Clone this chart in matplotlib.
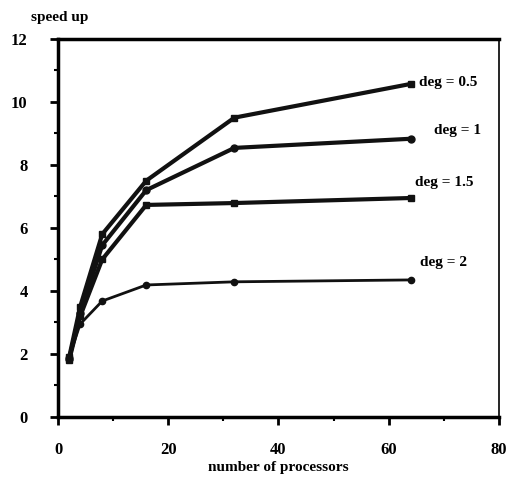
import matplotlib
matplotlib.use('Agg')
import matplotlib.pyplot as plt
from matplotlib.ticker import MultipleLocator

plt.rcParams['font.family'] = ['Liberation Serif', 'DejaVu Serif']

procs = [2, 4, 8, 16, 32, 64]
deg05 = [1.9, 3.5, 5.8, 7.5, 9.5, 10.57]
deg1 = [1.85, 3.3, 5.45, 7.2, 8.54, 8.83]
deg15 = [1.8, 3.2, 5.0, 6.73, 6.79, 6.95]
deg2 = [1.9, 2.95, 3.68, 4.19, 4.29, 4.35]
labels = ['deg = 0.5', 'deg = 1', 'deg = 1.5', 'deg = 2']

fig = plt.figure(figsize=(5.1, 4.86), dpi=100)
ax = fig.add_axes([0.114, 0.142, 0.864, 0.778])

ax.plot(procs, deg05, color='#111', lw=3, marker='s', ms=5)
ax.plot(procs, deg1, color='#111', lw=3, marker='o', ms=5)
ax.plot(procs, deg15, color='#111', lw=3, marker='s', ms=5)
ax.plot(procs, deg2, color='#111', lw=2, marker='o', ms=4.5)

# labels next to the right end of each line
ax.text(65.5, 10.62, labels[0], fontsize=11, fontweight='bold', ha='left', va='center')
ax.text(68.2, 9.1, labels[1], fontsize=11, fontweight='bold', ha='left', va='center')
ax.text(64.8, 7.45, labels[2], fontsize=11, fontweight='bold', ha='left', va='center')
ax.text(65.7, 4.9, labels[3], fontsize=11, fontweight='bold', ha='left', va='center')

ax.set_xlim(0, 80)
ax.set_ylim(0, 12)
ax.xaxis.set_major_locator(MultipleLocator(20))
ax.xaxis.set_minor_locator(MultipleLocator(10))
ax.yaxis.set_major_locator(MultipleLocator(2))
ax.yaxis.set_minor_locator(MultipleLocator(1))
ax.tick_params(which='major', direction='out', length=6, width=2, labelsize=12)
ax.tick_params(axis='x', which='major', pad=12)
ax.tick_params(axis='y', which='major', pad=16)
ax.tick_params(which='minor', direction='out', length=3, width=1.5)
for lab in ax.get_xticklabels() + ax.get_yticklabels():
    lab.set_fontweight('bold')

for s in ['left', 'bottom', 'top']:
    ax.spines[s].set_linewidth(2.5)
ax.spines['right'].set_linewidth(1.2)

ax.set_xlabel('number of processors', fontsize=11, fontweight='bold', labelpad=2)
fig.text(0.06, 0.965, 'speed up', fontsize=11, fontweight='bold', ha='left', va='center')

fig.savefig('out.png', dpi=100)
